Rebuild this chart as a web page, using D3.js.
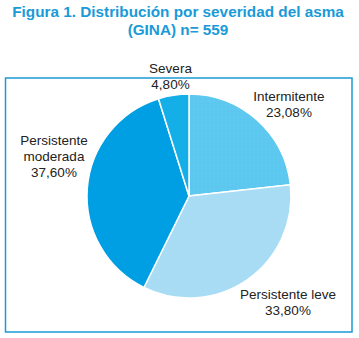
<!DOCTYPE html>
<html>
<head>
<meta charset="utf-8">
<script src="https://cdn.jsdelivr.net/npm/d3@7"></script>
<style>
  body { margin: 0; background: #fff; }
  text { font-family: "Liberation Sans", Arial, sans-serif; }
</style>
</head>
<body>
<svg id="pie"></svg>
<script>
// Data
const categories = ['Intermitente', 'Persistente leve', 'Persistente moderada', 'Severa'];
const values = [23.08, 33.80, 37.60, 4.80];
const colors = ['#5cc8f0', '#a7dcf4', '#009fe3', '#14aee8'];

const width = 359, height = 338;
const svg = d3.select('#pie')
    .attr('width', width)
    .attr('height', height);

// Title
const title = svg.append('text')
    .attr('text-anchor', 'middle')
    .attr('fill', '#1a9ad7')
    .style('font-size', '15.3px')
    .style('font-weight', 'bold');
title.append('tspan').attr('x', 178).attr('y', 17).text('Figura 1. Distribución por severidad del asma');
title.append('tspan').attr('x', 178).attr('y', 35).text('(GINA) n= 559');

// Frame
svg.append('rect')
    .attr('x', 5.5).attr('y', 78)
    .attr('width', 346.5).attr('height', 254)
    .attr('fill', 'none')
    .attr('stroke', '#1a9ad7')
    .attr('stroke-width', 1.5);

// light dot texture on the slices
const defs = svg.append('defs');
colors.forEach((c, i) => {
    const p = defs.append('pattern')
        .attr('id', 'dots' + i)
        .attr('width', 4).attr('height', 4)
        .attr('patternUnits', 'userSpaceOnUse');
    p.append('rect').attr('width', 4).attr('height', 4).attr('fill', c);
    p.append('circle').attr('cx', 1).attr('cy', 1).attr('r', 0.5)
        .attr('fill', i === 3 ? '#0a9fd8' : '#ffffff')
        .attr('opacity', i === 2 ? 0 : 0.15);
});

const cx = 189, cy = 196, radius = 102;

const pie = d3.pie().sort(null).value(d => d.value);
const arc = d3.arc().innerRadius(0).outerRadius(radius);
const data = categories.map((c, i) => ({name: c, value: values[i], idx: i}));

const g = svg.append('g').attr('transform', `translate(${cx},${cy})`);
g.selectAll('path')
    .data(pie(data))
    .enter()
    .append('path')
    .attr('d', arc)
    .attr('fill', d => `url(#dots${d.data.idx})`)
    .attr('stroke', '#fff')
    .attr('stroke-width', 1.5);

// Labels
const fmt = v => d3.format('.2f')(v).replace('.', ',') + '%';
const labelLines = [
    ['Intermitente'],
    ['Persistente leve'],
    ['Persistente', 'moderada'],
    ['Severa']
];
const labelPos = [
    {x: 289, y: 100.5},
    {x: 288, y: 299},
    {x: 54, y: 145},
    {x: 170.5, y: 73}
];
const lineH = 16;

data.forEach((d, i) => {
    const t = svg.append('text')
        .attr('text-anchor', 'middle')
        .attr('fill', '#222')
        .style('font-size', '13.5px');
    const lines = labelLines[i].concat([fmt(d.value)]);
    lines.forEach((l, j) => {
        t.append('tspan')
            .attr('x', labelPos[i].x)
            .attr('y', labelPos[i].y + j * lineH)
            .text(l);
    });
});
</script>
</body>
</html>
